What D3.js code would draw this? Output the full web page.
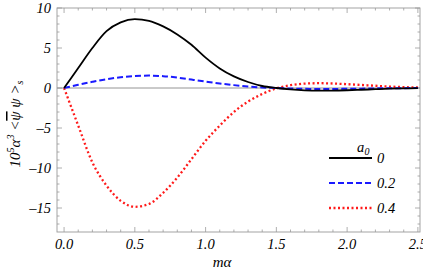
<!DOCTYPE html>
<html>
<head>
<meta charset="utf-8">
<script src="https://cdn.jsdelivr.net/npm/d3@7"></script>
<style>
body { margin: 0; background: #fff; }
</style>
</head>
<body>
<svg></svg>
<script>
//Chart size
var width = 423;
var height = 275;

//Data
var mAlpha = [0.0, 0.1, 0.2, 0.3, 0.4, 0.5, 0.6, 0.7, 0.8, 0.9, 1.0, 1.1, 1.2,
	1.3, 1.4, 1.5, 1.6, 1.7, 1.8, 1.9, 2.0, 2.1, 2.2, 2.3, 2.4, 2.5];
var a0 = ["0", "0.2", "0.4"];
var cond0 = [0, 2.5, 5.0, 7.1, 8.2, 8.6, 8.4, 7.7, 6.7, 5.4, 3.8, 2.45, 1.45,
	0.75, 0.25, 0.0, -0.18, -0.29, -0.33, -0.32, -0.28, -0.22, -0.15, -0.09, -0.05, -0.02];
var cond02 = [0, 0.4, 0.77, 1.1, 1.35, 1.5, 1.55, 1.48, 1.3, 1.05, 0.8, 0.56, 0.36,
	0.19, 0.07, 0.0, -0.06, -0.1, -0.12, -0.12, -0.1, -0.08, -0.05, -0.03, -0.02, -0.01];
var cond04 = [0, -4.7, -9.3, -12.2, -14.1, -14.85, -14.5, -13.1, -11.2, -8.9, -6.6, -4.7, -3.0,
	-1.7, -0.75, -0.05, 0.35, 0.55, 0.6, 0.56, 0.48, 0.38, 0.28, 0.18, 0.11, 0.06];
var xTicks = [0, 0.5, 1.0, 1.5, 2.0, 2.5];
var yTicks = [-15, -10, -5, 0, 5, 10];

var series = [
	{label: a0[0], values: cond0, color: "#000", dash: null, w: 1.8},
	{label: a0[1], values: cond02, color: "#1a1aff", dash: "6,3", w: 2},
	{label: a0[2], values: cond04, color: "#ff1a1a", dash: "2,2.5", w: 2.3}
];

//plot box (window.top is taken, so use other names)
var pLeft = 57, pRight = 420, pTop = 8, pBottom = 232;

var svg = d3.select("svg")
	.attr("width", width)
	.attr("height", height)
	.attr("font-family", "'Liberation Serif', 'DejaVu Serif', serif")
	.attr("font-style", "italic");

var x = d3.scaleLinear().domain([-0.05, 2.515]).range([pLeft, pRight]);
var y = d3.scaleLinear().domain([-18, 10]).range([pBottom, pTop]);

var frameColor = "#9a9a9a";

//ticks on all four sides, pointing in
function ticks(scale, values, len, side) {
	var g = svg.append("g").attr("stroke", frameColor).attr("stroke-width", 0.8);
	values.forEach(function(v) {
		var p = scale(v);
		if (side == "bottom") g.append("line").attr("x1", p).attr("x2", p).attr("y1", pBottom).attr("y2", pBottom - len);
		if (side == "top") g.append("line").attr("x1", p).attr("x2", p).attr("y1", pTop).attr("y2", pTop + len);
		if (side == "left") g.append("line").attr("y1", p).attr("y2", p).attr("x1", pLeft).attr("x2", pLeft + len);
		if (side == "right") g.append("line").attr("y1", p).attr("y2", p).attr("x1", pRight).attr("x2", pRight - len);
	});
}

var xMinor = d3.range(0, 26).map(function(i) { return i / 10; }).filter(function(v) { return Math.round(v * 10) % 5 != 0; });
var yMinor = d3.range(-17, 11).filter(function(v) { return v % 5 != 0; });

["bottom", "top"].forEach(function(s) {
	ticks(x, xTicks, 5, s);
	ticks(x, xMinor, 2.5, s);
});
["left", "right"].forEach(function(s) {
	ticks(y, yTicks, 5, s);
	ticks(y, yMinor, 2.5, s);
});

//zero line
svg.append("line")
	.attr("x1", pLeft).attr("x2", pRight)
	.attr("y1", y(0)).attr("y2", y(0))
	.attr("stroke", "#888").attr("stroke-width", 0.9);

//frame
svg.append("rect")
	.attr("x", pLeft).attr("y", pTop)
	.attr("width", pRight - pLeft).attr("height", pBottom - pTop)
	.attr("fill", "none").attr("stroke", frameColor).attr("stroke-width", 0.9);

//tick labels
svg.selectAll(".xl").data(xTicks).enter().append("text")
	.attr("x", function(d) { return x(d); })
	.attr("y", 249)
	.attr("text-anchor", "middle")
	.attr("font-size", 14.5)
	.text(function(d) { return d3.format(".1f")(d); });

svg.selectAll(".yl").data(yTicks).enter().append("text")
	.attr("x", 51)
	.attr("y", function(d) { return y(d) + 5; })
	.attr("text-anchor", "end")
	.attr("font-size", 14.5)
	.text(function(d) { return d < 0 ? "\u2013" + (-d) : d; });

//curves
var line = d3.line()
	.x(function(d, i) { return x(mAlpha[i]); })
	.y(function(d) { return y(d); })
	.curve(d3.curveMonotoneX);

var plot = svg.append("g");
series.slice().reverse().forEach(function(s) {
	plot.append("path")
		.attr("d", line(s.values))
		.attr("fill", "none")
		.attr("stroke", s.color)
		.attr("stroke-width", s.w)
		.attr("stroke-dasharray", s.dash);
});

//legend
var lg = svg.append("g");
lg.append("text").attr("x", 357).attr("y", 152).attr("font-size", 14.5).text("a");
lg.append("text").attr("x", 364.5).attr("y", 155).attr("font-size", 10).text("0");
series.forEach(function(s, i) {
	var yy = 158 + i * 25;
	lg.append("line")
		.attr("x1", 329).attr("x2", 372)
		.attr("y1", yy).attr("y2", yy)
		.attr("stroke", s.color)
		.attr("stroke-width", s.w)
		.attr("stroke-dasharray", s.dash);
	lg.append("text").attr("x", 377).attr("y", yy + 5).attr("font-size", 14.5).text(s.label);
});

//axis labels
svg.append("text")
	.attr("x", 222).attr("y", 267)
	.attr("text-anchor", "middle")
	.attr("font-size", 15)
	.text("m\u03b1");

var yl = svg.append("text")
	.attr("transform", "translate(20,124) rotate(-90)")
	.attr("text-anchor", "middle")
	.attr("font-size", 15);
yl.append("tspan").text("10");
yl.append("tspan").attr("font-size", 10).attr("dy", -6).text("5");
yl.append("tspan").attr("dy", 6).text("\u03b1");
yl.append("tspan").attr("font-size", 10).attr("dy", -6).text("3");
yl.append("tspan").attr("dy", 6).text(" <");
yl.append("tspan").style("text-decoration", "overline").text("\u03c8");
yl.append("tspan").text(" \u03c8 >");
yl.append("tspan").attr("font-size", 10).attr("dy", 3).text("s");
</script>
</body>
</html>
